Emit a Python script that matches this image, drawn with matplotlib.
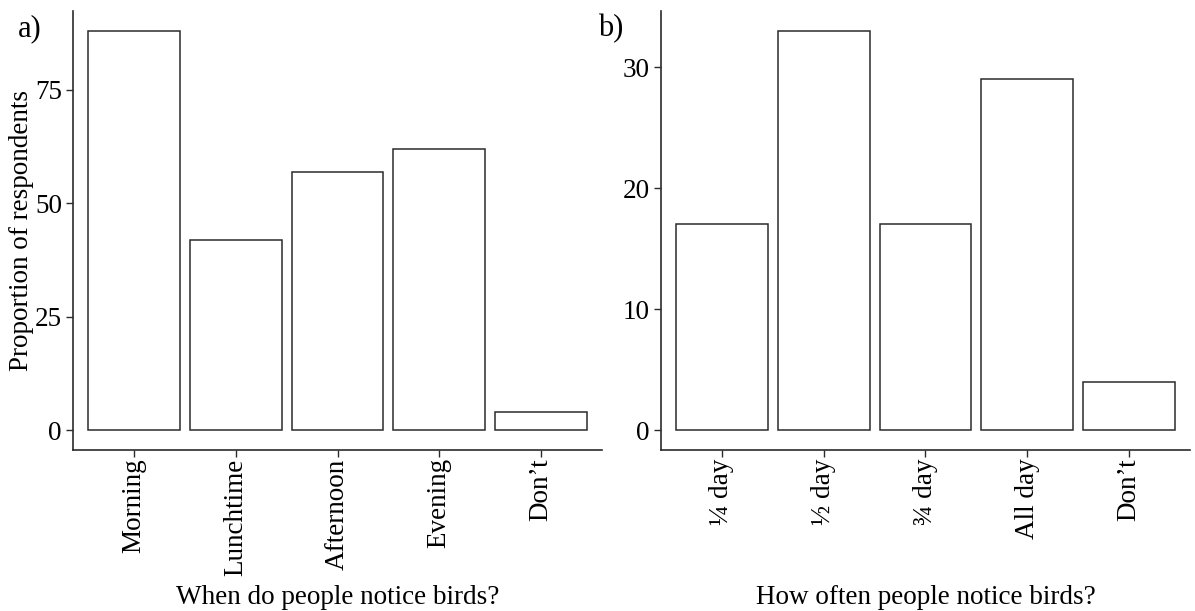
import matplotlib
matplotlib.use("Agg")
import matplotlib.pyplot as plt

plt.rcParams['font.family'] = ['Liberation Serif', 'DejaVu Serif']

# panel a: when birds are noticed
when_labels = ['Morning', 'Lunchtime', 'Afternoon', 'Evening', 'Don\u2019t']
when_values = [88, 42, 57, 62, 4]

# panel b: how often birds are noticed
often_labels = ['\u00bc day', '\u00bd day', '\u00be day', 'All day', 'Don\u2019t']
often_values = [17, 33, 17, 29, 4]

fig = plt.figure(figsize=(11.95, 6.11), dpi=100)
ax1 = fig.add_axes([0.0611, 0.2635, 0.4427, 0.7185])
ax2 = fig.add_axes([0.5531, 0.2635, 0.4427, 0.7185])

edge = '#2b2b2b'
fs = 19.5


def draw_panel(ax, labels, values, yticks, xlabel):
    x = range(len(labels))
    ax.bar(x, values, width=0.9, color='white', edgecolor=edge, linewidth=1.1)
    ax.set_xlim(-0.6, len(labels) - 0.4)
    top = max(values)
    ax.set_ylim(-0.05 * top, top * 1.05)
    ax.set_xticks(list(x))
    ax.set_xticklabels(labels, rotation=90, fontsize=fs)
    ax.set_yticks(yticks)
    ax.tick_params(axis='y', labelsize=fs, length=5, width=1, color=edge, pad=3)
    ax.tick_params(axis='x', length=5, width=1, color=edge, pad=1)
    for s in ['top', 'right']:
        ax.spines[s].set_visible(False)
    for s in ['left', 'bottom']:
        ax.spines[s].set_color(edge)
        ax.spines[s].set_linewidth(1.2)
    ax.set_xlabel(xlabel, fontsize=fs)
    ax.xaxis.set_label_coords(0.5, -0.337)
    ax.xaxis.label.set_va('center')


draw_panel(ax1, when_labels, when_values, [0, 25, 50, 75], 'When do people notice birds?')
draw_panel(ax2, often_labels, often_values, [0, 10, 20, 30], 'How often people notice birds?')

ax1.set_ylabel('Proportion of respondents', fontsize=fs, labelpad=0.5)

fig.text(18 / 1195, 1 - 29 / 611, 'a)', fontsize=22, va='center', ha='left')
fig.text(598 / 1195, 1 - 29 / 611, 'b)', fontsize=22, va='center', ha='left')

fig.savefig('out.png', dpi=100, facecolor='white')
